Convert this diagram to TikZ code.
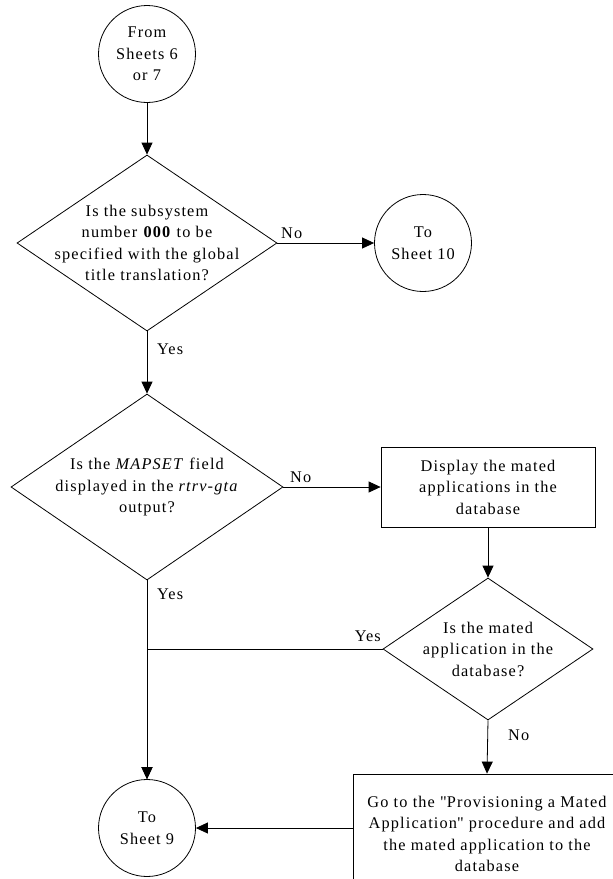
\documentclass[tikz,border=0pt]{standalone}
\usepackage{fontspec}
\setmainfont{Liberation Serif}[LetterSpace=7]
\newfontfamily\qfont{Liberation Serif}[LetterSpace=7]
\usetikzlibrary{shapes.geometric,arrows.meta}
\begin{document}
\begin{tikzpicture}[x=1pt,y=-1pt,
  every node/.style={font=\fontsize{16.3}{21.5}\selectfont, inner sep=0pt},
  conn/.style={draw, circle, line width=0.8pt, minimum size=97pt, align=center},
  decis/.style={draw, diamond, line width=0.8pt},
  procbox/.style={draw, rectangle, line width=0.8pt, align=center},
  txt/.style={align=center},
  lbl/.style={font=\fontsize{16.3}{18}\selectfont},
  flow/.style={line width=0.8pt, -{Triangle[length=12pt,width=11pt]}},
  plain/.style={line width=0.8pt}]
\useasboundingbox (0,0) rectangle (613,879);
\clip (0,0) rectangle (613,879);

\node[conn] (c1) at (147,54) {From\\Sheets 6\\or 7};
\node[decis, minimum width=260pt, minimum height=176pt] (d1) at (147,243) {};
\node[txt] (t1) at (d1.center) {Is the subsystem\\number \textbf{000} to be\\specified with the global\\title translation?};
\node[conn] (c2) at (423,243) {To\\Sheet 10};
\node[decis, minimum width=272pt, minimum height=186pt] (d2) at (147,487) {};
\node[txt] (t2) at (d2.center) {Is the \textit{MAPSET} field\\displayed in the \textit{rtrv-gta}\\output?};
\node[procbox, minimum width=214pt, minimum height=80pt] (b1) at (488,487) {Display the mated\\applications in the\\database};
\node[decis, minimum width=210pt, minimum height=142pt] (d3) at (488,649) {};
\node[txt] (t3) at (d3.center) {Is the mated\\application in the\\database?};
\node[procbox, minimum width=268pt, minimum height=108pt] (b2) at (487,828) {};
\node[txt] (t4) at (487,834) {Go to the {\qfont"}Provisioning a Mated\\Application{\qfont"} procedure and add\\the mated application to the\\database};
\node[conn] (c3) at (147,828) {To\\Sheet 9};

\draw[flow] (c1) -- (d1);
\draw[flow] (d1.east) -- (c2);
\draw[flow] (d1.south) -- (d2.north);
\draw[flow] (d2.east) -- (b1.west);
\draw[flow] (b1) -- (d3.north);
\draw[flow] (d2.south) -- (c3.north);
\draw[flow] (d3.west) -| (c3.north);
\draw[flow] (d3.south) -- (b2.north);
\draw[flow] (b2.west) -- (c3.east);

\node[lbl, anchor=west] (l1) at (281,233) {No};
\node[lbl, anchor=west] (l2) at (157,349) {Yes};
\node[lbl, anchor=west] (l3) at (290,477) {No};
\node[lbl, anchor=west] (l4) at (157,594) {Yes};
\node[lbl, anchor=east] (l5) at (381,636) {Yes};
\node[lbl, anchor=west] (l6) at (508,735) {No};
\end{tikzpicture}
\end{document}
